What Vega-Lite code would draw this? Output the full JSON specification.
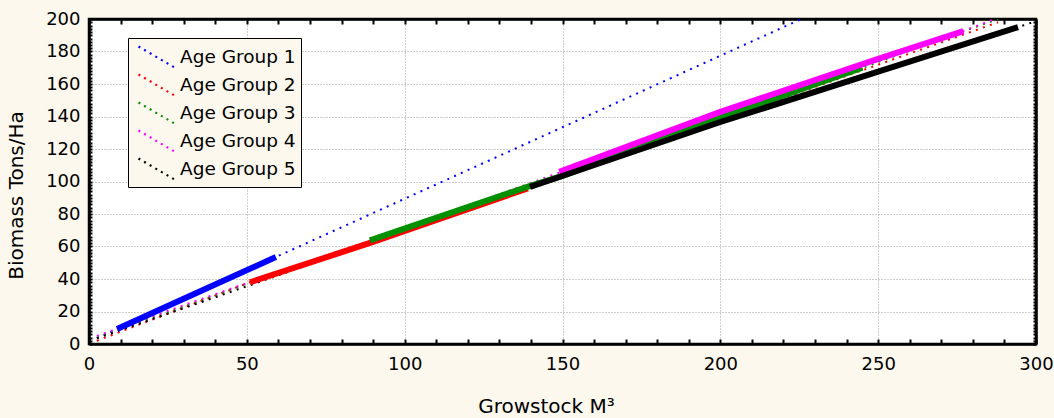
{
  "$schema": "https://vega.github.io/schema/vega-lite/v6.json",
  "width": 947,
  "height": 325,
  "autosize": {"type": "none"},
  "padding": {"left": 89, "top": 19, "right": 18, "bottom": 74},
  "background": "#fdf8ed",
  "config": {
    "view": {"fill": "white", "stroke": "black", "strokeWidth": 2.5},
    "font": "DejaVu Sans",
    "axis": {
      "domainColor": "black",
      "domainWidth": 2.5,
      "tickColor": "black",
      "tickWidth": 2,
      "labelFont": "DejaVu Sans",
      "labelFontSize": 18,
      "labelColor": "black",
      "titleFont": "DejaVu Sans",
      "titleFontSize": 20,
      "titleFontWeight": "normal",
      "titleColor": "black",
      "gridColor": "#9a9a9a",
      "gridDash": [1, 2],
      "gridWidth": 1,
      "labelOverlap": false,
      "labelBound": false,
      "labelFlush": false
    }
  },
  "data": {
    "values": [
      {"group": "Age Group 1", "part": "fit", "x": 2.5, "y": 3.6},
      {"group": "Age Group 1", "part": "fit", "x": 60, "y": 54.2},
      {"group": "Age Group 1", "part": "fit", "x": 150, "y": 133.4},
      {"group": "Age Group 1", "part": "fit", "x": 225.7, "y": 200},
      {"group": "Age Group 2", "part": "fit", "x": 2.5, "y": 2},
      {"group": "Age Group 2", "part": "fit", "x": 51, "y": 38},
      {"group": "Age Group 2", "part": "fit", "x": 90, "y": 62.8},
      {"group": "Age Group 2", "part": "fit", "x": 139, "y": 95.8},
      {"group": "Age Group 2", "part": "fit", "x": 200, "y": 137.5},
      {"group": "Age Group 2", "part": "fit", "x": 288, "y": 198},
      {"group": "Age Group 3", "part": "fit", "x": 2.5, "y": 4},
      {"group": "Age Group 3", "part": "fit", "x": 50, "y": 37},
      {"group": "Age Group 3", "part": "fit", "x": 90, "y": 64},
      {"group": "Age Group 3", "part": "fit", "x": 140, "y": 97.5},
      {"group": "Age Group 3", "part": "fit", "x": 200, "y": 139.2},
      {"group": "Age Group 3", "part": "fit", "x": 245, "y": 170},
      {"group": "Age Group 3", "part": "fit", "x": 280, "y": 194.5},
      {"group": "Age Group 3", "part": "fit", "x": 288, "y": 200},
      {"group": "Age Group 4", "part": "fit", "x": 2.5, "y": 5},
      {"group": "Age Group 4", "part": "fit", "x": 50, "y": 37.5},
      {"group": "Age Group 4", "part": "fit", "x": 100, "y": 71},
      {"group": "Age Group 4", "part": "fit", "x": 149, "y": 105.5},
      {"group": "Age Group 4", "part": "fit", "x": 200, "y": 142.5},
      {"group": "Age Group 4", "part": "fit", "x": 277, "y": 192.6},
      {"group": "Age Group 4", "part": "fit", "x": 287, "y": 200},
      {"group": "Age Group 5", "part": "fit", "x": 2.5, "y": 3.5},
      {"group": "Age Group 5", "part": "fit", "x": 50, "y": 35.5},
      {"group": "Age Group 5", "part": "fit", "x": 100, "y": 69.5},
      {"group": "Age Group 5", "part": "fit", "x": 139.7, "y": 96.6},
      {"group": "Age Group 5", "part": "fit", "x": 200, "y": 136.6},
      {"group": "Age Group 5", "part": "fit", "x": 250, "y": 167.6},
      {"group": "Age Group 5", "part": "fit", "x": 294.3, "y": 195},
      {"group": "Age Group 5", "part": "fit", "x": 299, "y": 198},
      {"group": "Age Group 1", "part": "obs", "x": 8.9, "y": 9.2},
      {"group": "Age Group 1", "part": "obs", "x": 30, "y": 27.8},
      {"group": "Age Group 1", "part": "obs", "x": 59.2, "y": 53.5},
      {"group": "Age Group 2", "part": "obs", "x": 51, "y": 38},
      {"group": "Age Group 2", "part": "obs", "x": 90, "y": 62.8},
      {"group": "Age Group 2", "part": "obs", "x": 139, "y": 95.8},
      {"group": "Age Group 3", "part": "obs", "x": 89, "y": 63.8},
      {"group": "Age Group 3", "part": "obs", "x": 140, "y": 97.5},
      {"group": "Age Group 3", "part": "obs", "x": 150, "y": 103.5},
      {"group": "Age Group 3", "part": "obs", "x": 200, "y": 139.2},
      {"group": "Age Group 3", "part": "obs", "x": 245, "y": 170},
      {"group": "Age Group 4", "part": "obs", "x": 149, "y": 106},
      {"group": "Age Group 4", "part": "obs", "x": 200, "y": 142.8},
      {"group": "Age Group 4", "part": "obs", "x": 250, "y": 175.5},
      {"group": "Age Group 4", "part": "obs", "x": 277, "y": 192.6},
      {"group": "Age Group 5", "part": "obs", "x": 139.7, "y": 96.6},
      {"group": "Age Group 5", "part": "obs", "x": 200, "y": 136.6},
      {"group": "Age Group 5", "part": "obs", "x": 250, "y": 167.6},
      {"group": "Age Group 5", "part": "obs", "x": 294.3, "y": 195}
    ]
  },
  "layer": [
    {
      "transform": [{"filter": "datum.part === 'fit'"}],
      "mark": {"type": "line", "strokeWidth": 2, "strokeDash": [2, 5.4], "strokeCap": "butt", "clip": true},
      "encoding": {
        "x": {
          "field": "x", "type": "quantitative",
          "scale": {"domain": [0, 300], "nice": false, "zero": false},
          "axis": {
            "orient": "bottom",
            "title": "Growstock M³",
            "titleX": 457, "titleY": 68, "titleBaseline": "alphabetic", "titleAlign": "center",
            "values": [0,10,20,30,40,50,60,70,80,90,100,110,120,130,140,150,160,170,180,190,200,210,220,230,240,250,260,270,280,290,300],
            "labelExpr": "datum.value % 50 === 0 ? datum.label : ''",
            "tickSize": -5,
            "labelPadding": 16,
            "grid": true,
            "gridOpacity": {"condition": {"test": "datum.value % 50 === 0 && datum.value > 0 && datum.value < 300", "value": 1}, "value": 0}
          }
        },
        "y": {
          "field": "y", "type": "quantitative",
          "scale": {"domain": [0, 200], "nice": false, "zero": false},
          "axis": {
            "orient": "left",
            "title": "Biomass Tons/Ha",
            "titleX": -67, "titleY": 176, "titleBaseline": "alphabetic", "titleAlign": "center", "titleAngle": 270,
            "values": [0,2,4,6,8,10,12,14,16,18,20,22,24,26,28,30,32,34,36,38,40,42,44,46,48,50,52,54,56,58,60,62,64,66,68,70,72,74,76,78,80,82,84,86,88,90,92,94,96,98,100,102,104,106,108,110,112,114,116,118,120,122,124,126,128,130,132,134,136,138,140,142,144,146,148,150,152,154,156,158,160,162,164,166,168,170,172,174,176,178,180,182,184,186,188,190,192,194,196,198,200],
            "labelExpr": "datum.value % 20 === 0 ? datum.label : ''",
            "tickSize": -3,
            "labelPadding": 12,
            "grid": true,
            "gridOpacity": {"condition": {"test": "datum.value % 20 === 0 && datum.value > 0 && datum.value < 200", "value": 1}, "value": 0}
          }
        },
        "color": {
          "field": "group", "type": "nominal",
          "scale": {
            "domain": ["Age Group 1", "Age Group 2", "Age Group 3", "Age Group 4", "Age Group 5"],
            "range": ["#0000ff", "#ff0000", "#009000", "#ff00ff", "#000000"]
          },
          "legend": {
            "title": null,
            "orient": "none",
            "legendX": 39,
            "legendY": 19,
            "fillColor": "#fdf8ed",
            "strokeColor": "black",
            "padding": 4.5,
            "rowPadding": 0,
            "clipHeight": 28,
            "symbolSize": 400,
            "symbolType": "M-0.55,-1.0L3.05,1.1",
            "symbolDash": [2, 4.5],
            "symbolStrokeWidth": 2.2,
            "symbolFillColor": "transparent",
            "labelFont": "DejaVu Sans",
            "labelFontSize": 18.5,
            "labelColor": "black",
            "labelOffset": 24.5,
            "labelLimit": 300
          }
        }
      }
    },
    {
      "transform": [{"filter": "datum.part === 'obs'"}],
      "mark": {"type": "line", "strokeWidth": 6, "clip": true},
      "encoding": {
        "x": {
          "field": "x", "type": "quantitative",
          "scale": {"domain": [0, 300], "nice": false, "zero": false},
          "axis": {
            "orient": "top",
            "title": null,
            "values": [0,10,20,30,40,50,60,70,80,90,100,110,120,130,140,150,160,170,180,190,200,210,220,230,240,250,260,270,280,290,300],
            "labels": false,
            "tickSize": -5,
            "grid": false
          }
        },
        "y": {
          "field": "y", "type": "quantitative",
          "scale": {"domain": [0, 200], "nice": false, "zero": false},
          "axis": {
            "orient": "right",
            "title": null,
            "values": [0,2,4,6,8,10,12,14,16,18,20,22,24,26,28,30,32,34,36,38,40,42,44,46,48,50,52,54,56,58,60,62,64,66,68,70,72,74,76,78,80,82,84,86,88,90,92,94,96,98,100,102,104,106,108,110,112,114,116,118,120,122,124,126,128,130,132,134,136,138,140,142,144,146,148,150,152,154,156,158,160,162,164,166,168,170,172,174,176,178,180,182,184,186,188,190,192,194,196,198,200],
            "labels": false,
            "tickSize": -3,
            "grid": false
          }
        },
        "color": {
          "field": "group", "type": "nominal",
          "scale": {
            "domain": ["Age Group 1", "Age Group 2", "Age Group 3", "Age Group 4", "Age Group 5"],
            "range": ["#0000ff", "#ff0000", "#009000", "#ff00ff", "#000000"]
          }
        }
      }
    }
  ],
  "resolve": {"axis": {"x": "independent", "y": "independent"}}
}
